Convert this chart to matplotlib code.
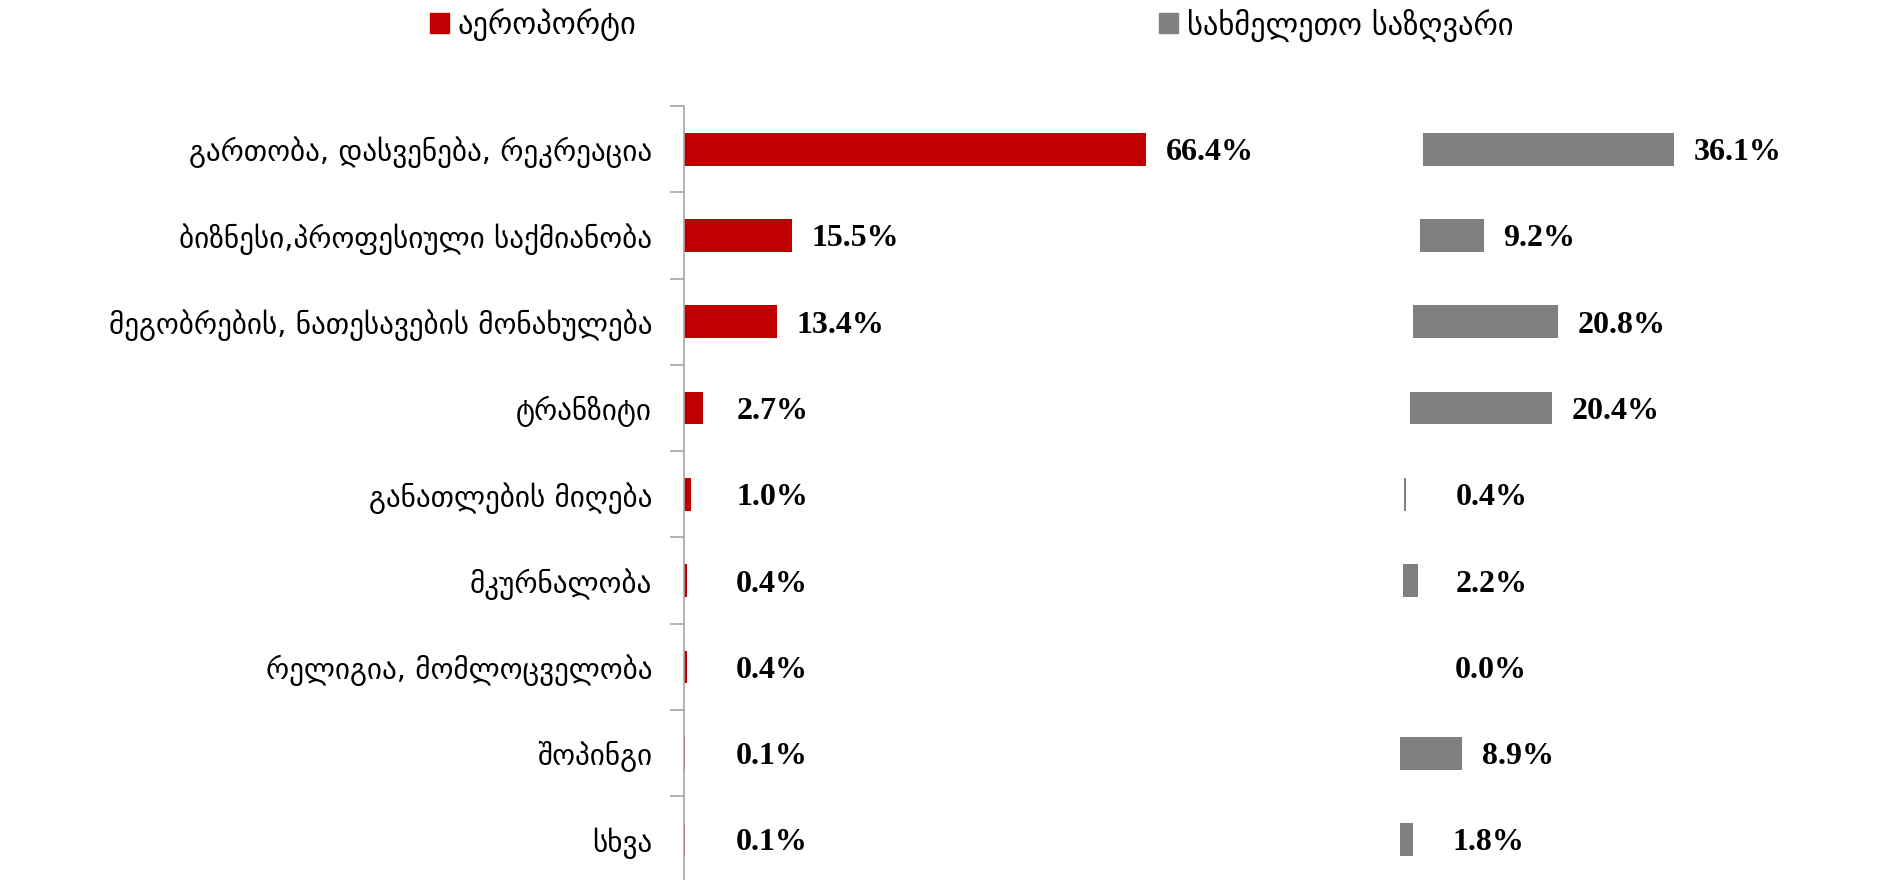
import numpy as np
import matplotlib.pyplot as plt
from matplotlib.patches import Rectangle

# data
categories = ['გართობა, დასვენება, რეკრეაცია',
              'ბიზნესი,პროფესიული საქმიანობა',
              'მეგობრების, ნათესავების მონახულება',
              'ტრანზიტი',
              'განათლების მიღება',
              'მკურნალობა',
              'რელიგია, მომლოცველობა',
              'შოპინგი',
              'სხვა']
airport = [66.4, 15.5, 13.4, 2.7, 1.0, 0.4, 0.4, 0.1, 0.1]
land = [36.1, 9.2, 20.8, 20.4, 0.4, 2.2, 0.0, 8.9, 1.8]
# where the grey bars start (same % scale as the red ones)
land_start = [106.2, 105.7, 104.8, 104.3, 103.4, 103.3, 103.3, 102.9, 102.9]
series_names = ['აეროპორტი', 'სახმელეთო საზღვარი']

RED = '#C00000'
GREY = '#808080'
geo_font = ['DejaVu Sans']
num_font = ['Liberation Serif', 'DejaVu Serif']


def bar_labels(ax, starts, values):
    # value labels to the right of each bar, kept off the axis for tiny bars
    for i, (s, v) in enumerate(zip(starts, values)):
        x = max(s + v + 2.8, s + 7.5)
        ax.text(x, i + 0.04, f'{v:.1f}%', va='center', ha='left', fontsize=23,
                fontweight='bold', family=num_font, color='black')


def main():
    fig = plt.figure(figsize=(19.01, 8.8), dpi=100)
    ax = fig.add_axes([684 / 1901, -0.003, (1890 - 684) / 1901, 1 - 106 / 880 + 0.003])

    y = np.arange(len(categories))
    ax.barh(y, airport, height=0.38, color=RED)
    ax.barh(y, land, left=land_start, height=0.38, color=GREY)

    bar_labels(ax, [0] * len(airport), airport)
    bar_labels(ax, land_start, land)

    ax.set_xlim(0, (1890 - 684) / 6.96)
    ax.set_ylim(len(categories) - 0.5, -0.5)

    ax.set_yticks(y)
    ax.set_yticklabels(categories, fontsize=21, family=geo_font)
    ax.tick_params(axis='y', which='major', length=0, pad=23)
    ax.set_yticks(np.arange(len(categories) + 1) - 0.5, minor=True)
    ax.tick_params(axis='y', which='minor', length=10, width=1.2, color='#A6A6A6')
    ax.set_xticks([])

    for side in ['top', 'right', 'bottom']:
        ax.spines[side].set_visible(False)
    ax.spines['left'].set_color('#A6A6A6')
    ax.spines['left'].set_linewidth(1.2)

    # legend along the top
    W, H = 1901, 880
    for (x0, name, col) in [(430, series_names[0], RED), (1159, series_names[1], GREY)]:
        fig.patches.append(Rectangle((x0 / W, 1 - 33 / H), 19 / W, 20 / H,
                                     transform=fig.transFigure, color=col))
        fig.text((x0 + 28) / W, 1 - 25 / H, name, fontsize=22, family=geo_font,
                 va='center', ha='left')

    fig.savefig('out.png', dpi=100)


if __name__ == '__main__':
    main()
